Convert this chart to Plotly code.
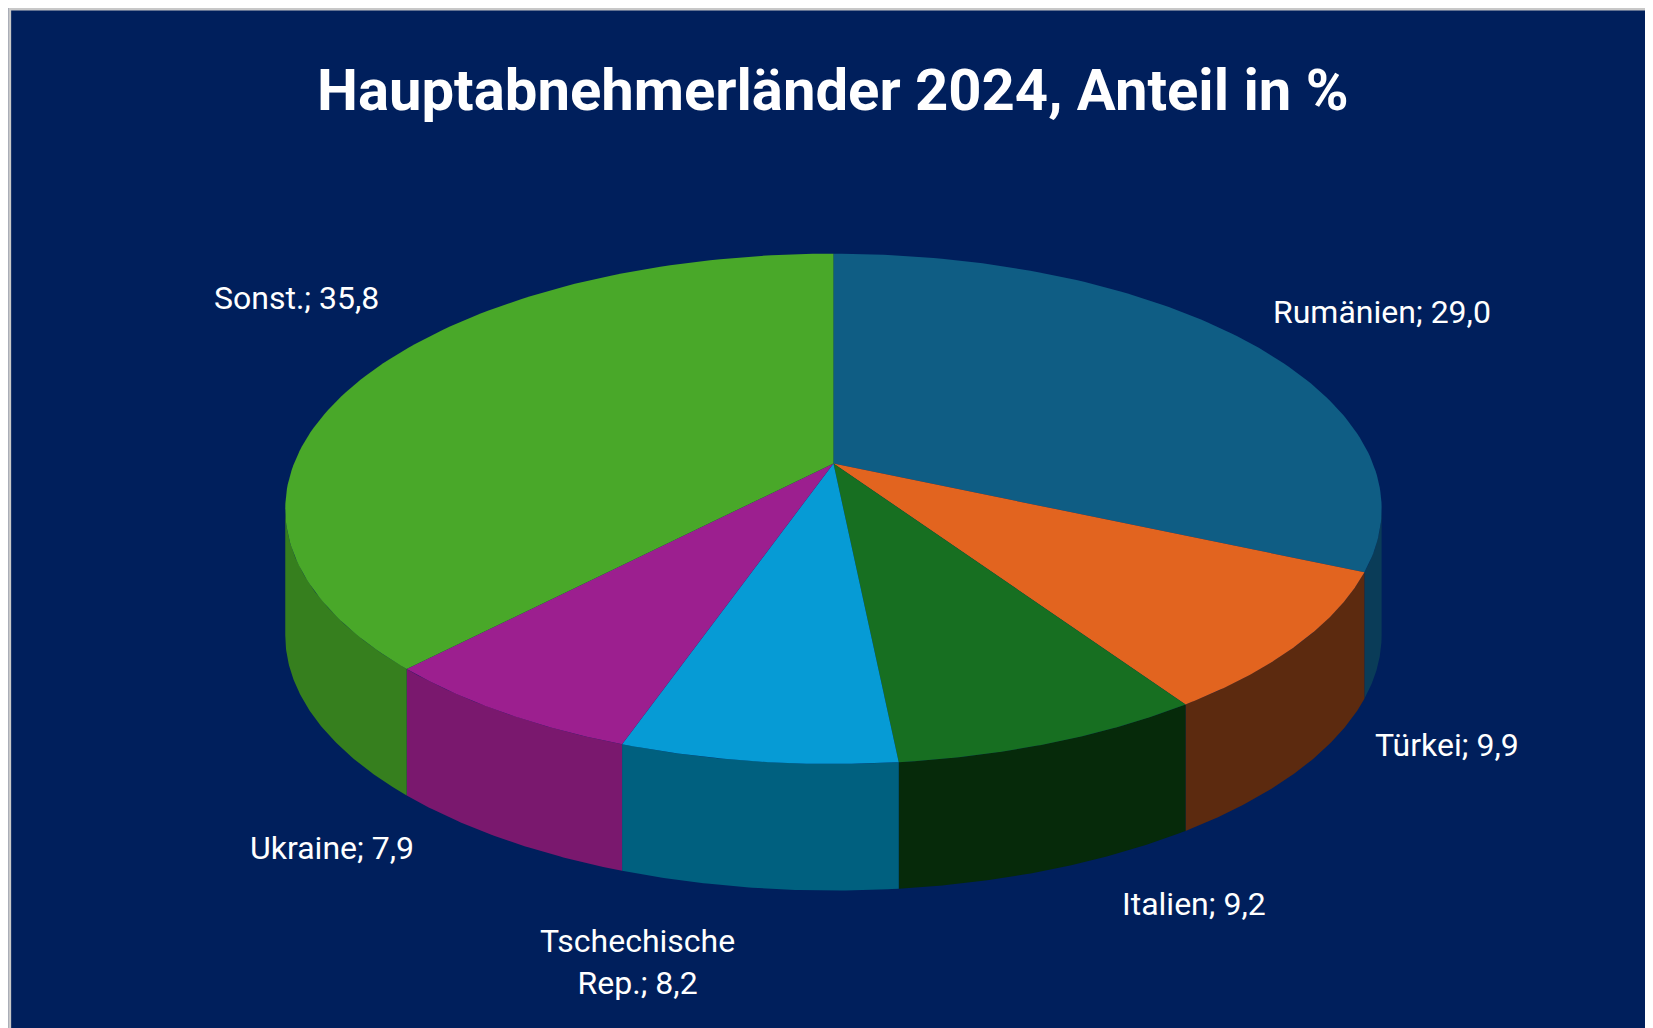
import numpy as np
import plotly.graph_objects as go

countries = ["Rumänien", "Türkei", "Italien", "Tschechische<br>Rep.", "Ukraine", "Sonst."]
shares = [29.0, 9.9, 9.2, 8.2, 7.9, 35.8]
top_colors = ["#0f5d84", "#e2641f", "#176f21", "#069bd5", "#9c1f8f", "#49a829"]
side_colors = ["#0a3c58", "#5c2a0f", "#062a0a", "#00607f", "#7a186e", "#367f1e"]
label_pos = [(1303, 288), (1365, 699), (1125, 850), (597, 905), (307, 797), (274, 275)]

# ellipse centre, radii, apex of slices (perspective), wall depth
cx, cy, rx, ry, depth = 783, 475, 520, 242, 120
ax_, ay_ = 783, 432

def pt(t):
    return cx + rx * np.sin(t), cy - ry * np.cos(t)

fig = go.Figure()
bounds = np.concatenate([[0], np.cumsum(shares)]) / 100 * 2 * np.pi

# side walls (front half only)
for i in range(len(shares)):
    a, b = max(bounds[i], np.pi / 2), min(bounds[i + 1], 3 * np.pi / 2)
    if a >= b:
        continue
    t = np.linspace(a, b, 80)
    x, y = pt(t)
    xs = np.concatenate([x, x[::-1], [x[0]]])
    ys = np.concatenate([y, y[::-1] + depth, [y[0]]])
    fig.add_trace(go.Scatter(x=xs, y=ys, fill="toself", mode="lines",
                             fillcolor=side_colors[i], line=dict(width=0),
                             hoverinfo="skip", showlegend=False))

# tops
for i in range(len(shares)):
    t = np.linspace(bounds[i], bounds[i + 1], 120)
    x, y = pt(t)
    xs = np.concatenate([[ax_], x, [ax_]])
    ys = np.concatenate([[ay_], y, [ay_]])
    fig.add_trace(go.Scatter(x=xs, y=ys, fill="toself", mode="lines",
                             fillcolor=top_colors[i], line=dict(width=0),
                             name=countries[i], showlegend=False))

for name, v, (lx, ly) in zip(countries, shares, label_pos):
    val = f"{v:.1f}".replace(".", ",")
    fig.add_annotation(x=lx, y=ly, text=f"{name}; {val}",
                       showarrow=False, font=dict(size=32, color="white", family="Roboto"))

fig.add_annotation(x=783, y=78, text="<b>Hauptabnehmerländer 2024, Anteil in %</b>",
                   showarrow=False, font=dict(size=58, color="white", family="Roboto"))

fig.add_shape(type="rect", xref="paper", yref="paper", x0=0.001, y0=0.001, x1=0.999, y1=0.999,
              line=dict(color="#c8c8c8", width=3))

fig.update_xaxes(range=[0, 1568], visible=False, fixedrange=True)
fig.update_yaxes(range=[975, 0], visible=False, fixedrange=True)
fig.update_layout(width=1653, height=1028, margin=dict(l=0, r=0, t=0, b=0),
                  paper_bgcolor="#001f5c", plot_bgcolor="#001f5c")
fig.write_html("out.html")
